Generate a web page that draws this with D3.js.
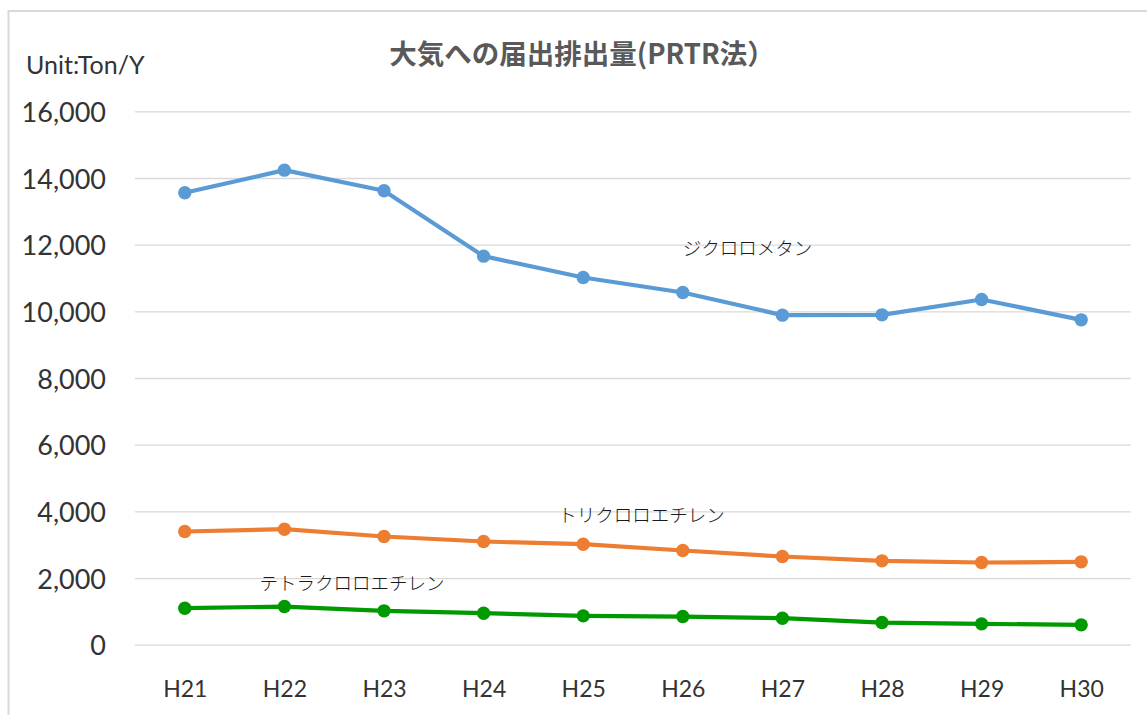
<!DOCTYPE html>
<html><head><meta charset="utf-8">
<script src="https://cdn.jsdelivr.net/npm/d3@7"></script>
<style>
html,body{margin:0;padding:0;background:#fff;}
svg{display:block;}
</style></head>
<body>
<svg id="chart" width="1147" height="715"></svg>
<script>
const categories = ["H21","H22","H23","H24","H25","H26","H27","H28","H29","H30"];
const dichloromethane = [13570,14250,13630,11670,11030,10580,9900,9910,10370,9760];
const trichloroethylene = [3410,3480,3260,3110,3030,2840,2660,2530,2480,2500];
const tetrachloroethylene = [1110,1160,1030,960,880,860,810,680,640,610];
const seriesNames = ["ジクロロメタン","トリクロロエチレン","テトラクロロエチレン"];
const seriesColors = ["#5B9BD5","#ED7D31","#009900"];
const yTicks = [0,2000,4000,6000,8000,10000,12000,14000,16000];
const titleText = "大気への届出排出量(PRTR法）";
const unitText = "Unit:Ton/Y";
// label anchors: category and value near which each series name sits
const labelCats = ["H26","H25","H22"];
const labelValues = [11700,3700,1650];

(function(){
const svg = d3.select("#chart");
const W = 1147, H = 715;
const pLeft = 135, pRight = 1131, pTop = 111.8, pBottom = 645.2;

// border
svg.append("rect").attr("x",8.5).attr("y",11).attr("width",W+10).attr("height",H+10)
  .attr("fill","#fff").attr("stroke","#d9d9d9").attr("stroke-width",2);

const x = d3.scalePoint().domain(categories).range([pLeft,pRight]).padding(0.5);
const y = d3.scaleLinear().domain([0,16000]).range([pBottom,pTop]);

// gridlines
svg.append("g").selectAll("line").data(yTicks).join("line")
  .attr("x1",pLeft).attr("x2",pRight)
  .attr("y1",d=>y(d)).attr("y2",d=>y(d))
  .attr("stroke","#d9d9d9").attr("stroke-width",1.3);

// y axis labels
const yAxis = d3.axisLeft(y).tickValues(yTicks).tickSize(0).tickPadding(0)
  .tickFormat(d3.format(","));
const gy = svg.append("g").attr("transform",`translate(${pLeft-29},0)`).call(yAxis);
gy.select(".domain").remove();
gy.selectAll("text").attr("font-family","Lato, 'Open Sans', sans-serif")
  .attr("font-size",27).attr("fill","#333").attr("dy","0.36em");

// x axis labels
const xAxis = d3.axisBottom(x).tickSize(0).tickPadding(0);
const gx = svg.append("g").attr("transform",`translate(0,${pBottom})`).call(xAxis);
gx.select(".domain").remove();
gx.selectAll("text").attr("font-family","Lato, 'Open Sans', sans-serif")
  .attr("font-size",23).attr("fill","#333").attr("dy",null).attr("y",51.5);

// title
svg.append("text").attr("x",582).attr("y",64).attr("text-anchor","middle")
  .attr("font-family","'Noto Sans CJK JP', sans-serif").attr("font-weight","bold")
  .attr("font-size",27.5).attr("fill","#595959").text(titleText);

// unit
svg.append("text").attr("x",26).attr("y",74)
  .attr("font-family","Lato, 'Open Sans', sans-serif")
  .attr("font-size",25).attr("fill","#333").text(unitText);

// series
const allSeries = [dichloromethane, trichloroethylene, tetrachloroethylene];
const line = d3.line().x((d,i)=>x(categories[i])).y(d=>y(d));
allSeries.forEach((vals,si)=>{
  const g = svg.append("g");
  g.append("path").datum(vals).attr("d",line).attr("fill","none")
    .attr("stroke",seriesColors[si]).attr("stroke-width",4.2)
    .attr("stroke-linejoin","round").attr("stroke-linecap","round");
  g.selectAll("circle").data(vals).join("circle")
    .attr("cx",(d,i)=>x(categories[i])).attr("cy",d=>y(d)).attr("r",6.7)
    .attr("fill",seriesColors[si]);
});

// series labels
const labelDx = [0,-25,-25];
seriesNames.forEach((name,i)=>{
  svg.append("text").attr("x",x(labelCats[i])+labelDx[i]).attr("y",y(labelValues[i]))
    .attr("font-family","'Noto Sans CJK JP', sans-serif").attr("font-weight",300)
    .attr("font-size",18.5).attr("fill","#1a1a1a").text(name);
});
})();
</script>
</body></html>
